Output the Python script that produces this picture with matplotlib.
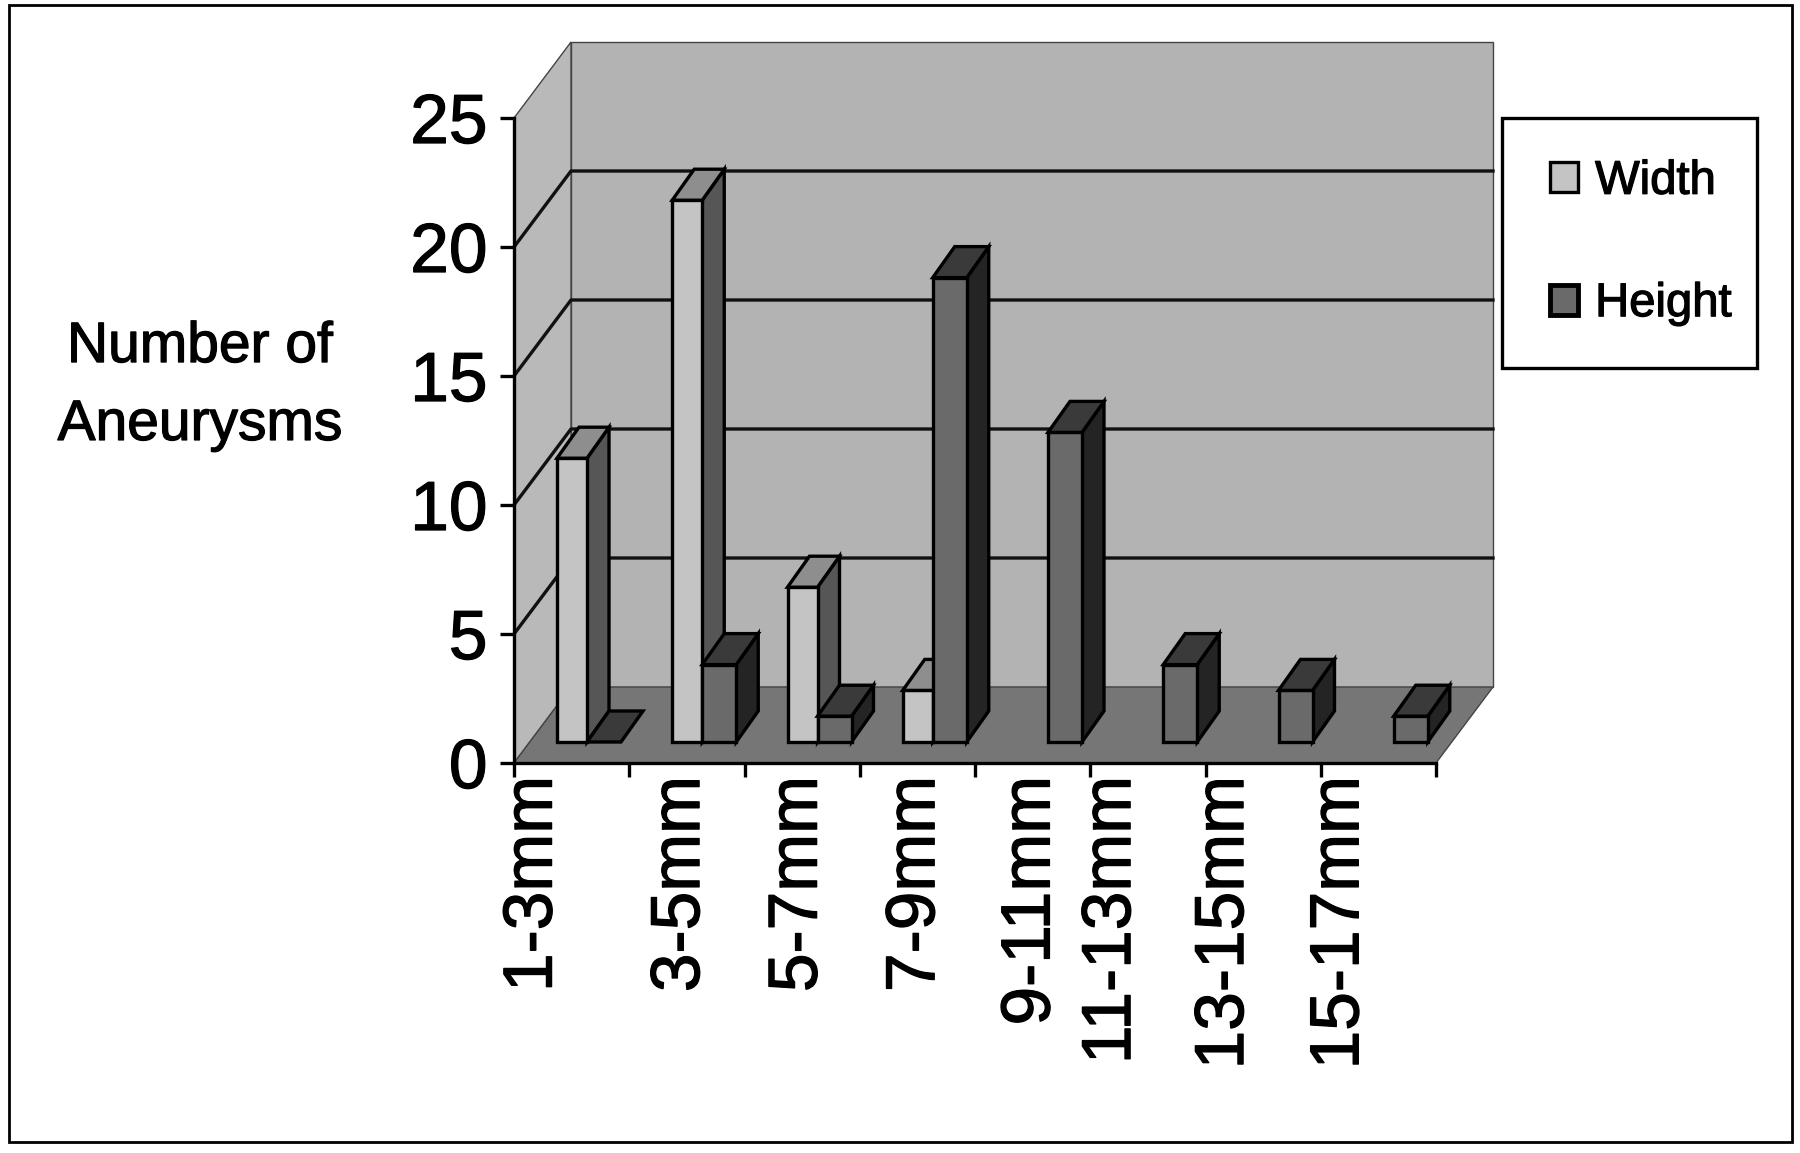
import matplotlib

matplotlib.use("Agg")
import matplotlib.pyplot as plt
import matplotlib.patheffects as pe
from matplotlib.patches import Patch, Polygon, Rectangle

plt.rcParams["font.family"] = ["Liberation Sans", "DejaVu Sans"]

categories = ["1-3mm", "3-5mm", "5-7mm", "7-9mm", "9-11mm", "11-13mm", "13-15mm", "15-17mm"]
width_counts = [11, 21, 6, 2, 0, 0, 0, 0]
height_counts = [0, 3, 1, 18, 12, 3, 2, 1]
y_ticks = [0, 5, 10, 15, 20, 25]

W, H = 1800, 1153
AX_L, AX_R, AX_B, AX_T = 514, 1436, 763, 118
CAT_PX = (AX_R - AX_L) / 8
VAL_PX = (AX_B - AX_T) / 25

# 3d look, all in data units
WALL_DX, WALL_DY = 57 / CAT_PX, 76 / VAL_PX
BAR_DX, BAR_DY = 22 / CAT_PX, 31 / VAL_PX
BAR_BASE = 21 / VAL_PX
BAR_START = 43 / CAT_PX
W_BAR, H_BAR = 30 / CAT_PX, 34 / CAT_PX
LABEL_X = [0.17, 1.45, 2.47, 3.49, 4.49, 5.19, 6.17, 7.17]

LW = 2.4
HEAVY = [pe.withStroke(linewidth=0.9, foreground="black")]


def add_poly(ax, pts, color, edge="black", lw=LW, z=2):
    ax.add_patch(Polygon(pts, closed=True, facecolor=color, edgecolor=edge, linewidth=lw,
                         joinstyle="miter", clip_on=False, zorder=z))


def draw_bar(ax, x0, w, v, front, top, side):
    y0 = BAR_BASE
    y1 = BAR_BASE + v
    if v > 0:
        add_poly(ax, [(x0 + w, y0), (x0 + w + BAR_DX, y0 + BAR_DY), (x0 + w + BAR_DX, y1 + BAR_DY), (x0 + w, y1)], side)
        add_poly(ax, [(x0, y0), (x0 + w, y0), (x0 + w, y1), (x0, y1)], front)
    add_poly(ax, [(x0, y1), (x0 + BAR_DX, y1 + BAR_DY), (x0 + w + BAR_DX, y1 + BAR_DY), (x0 + w, y1)], top)


def main() -> None:
    fig = plt.figure(figsize=(W / 100, H / 100), dpi=100)
    fig.add_artist(Rectangle((9 / W, 1 - 1142 / H), (1792 - 9) / W, (1142 - 5) / H, transform=fig.transFigure,
                             facecolor="white", edgecolor="black", linewidth=2.0, zorder=-2))
    ax = fig.add_axes([AX_L / W, 1 - AX_B / H, (AX_R - AX_L) / W, (AX_B - AX_T) / H])
    ax.patch.set_visible(False)
    ax.set_xlim(0, 8)
    ax.set_ylim(0, 25)

    # walls and floor
    add_poly(ax, [(WALL_DX, WALL_DY), (8 + WALL_DX, WALL_DY), (8 + WALL_DX, 25 + WALL_DY), (WALL_DX, 25 + WALL_DY)],
             "#b3b3b3", edge="#444444", lw=1.0, z=1)
    add_poly(ax, [(0, 0), (WALL_DX, WALL_DY), (WALL_DX, 25 + WALL_DY), (0, 25)],
             "#b9b9b9", edge="#444444", lw=1.0, z=1)
    add_poly(ax, [(0, 0), (8, 0), (8 + WALL_DX, WALL_DY), (WALL_DX, WALL_DY)],
             "#767676", edge="#444444", lw=1.0, z=1)

    for v in y_ticks[1:-1]:
        ax.plot([0, WALL_DX, 8 + WALL_DX], [v, v + WALL_DY, v + WALL_DY], color="#111111", linewidth=LW,
                clip_on=False, zorder=1.5)

    for i in range(len(categories)):
        x0 = i + BAR_START
        if width_counts[i] > 0:
            draw_bar(ax, x0, W_BAR, width_counts[i], "#c4c4c4", "#8e8e8e", "#565656")
        draw_bar(ax, x0 + W_BAR, H_BAR, height_counts[i], "#6a6a6a", "#3a3a3a", "#242424")

    for s in ["top", "right"]:
        ax.spines[s].set_visible(False)
    for s in ["left", "bottom"]:
        ax.spines[s].set_linewidth(LW)
        ax.spines[s].set_zorder(3)

    ax.set_yticks(y_ticks)
    ax.tick_params(axis="y", labelsize=50, length=10, width=LW, pad=9)
    ax.set_xticks(LABEL_X, categories, rotation=90, ha="center", va="top")
    ax.set_xticks(range(9), minor=True)
    ax.tick_params(axis="x", which="major", labelsize=50, length=0, pad=9)
    ax.tick_params(axis="x", which="minor", length=10, width=LW)
    for lab in ax.get_xticklabels() + ax.get_yticklabels():
        lab.set_path_effects(HEAVY)

    fig.text(200 / W, 1 - 386 / H, "Number of\nAneurysms", fontsize=41, ha="center", va="center",
             linespacing=1.57, path_effects=HEAVY)

    fig.add_artist(Rectangle((1502 / W, 1 - 368 / H), (1757 - 1502) / W, (368 - 118) / H, transform=fig.transFigure,
                             facecolor="white", edgecolor="black", linewidth=LW, zorder=-1))
    handles = [Patch(facecolor="#c4c4c4", edgecolor="black", linewidth=LW),
               Patch(facecolor="#6a6a6a", edgecolor="black", linewidth=3.5)]
    leg = fig.legend(handles, ["Width", "Height"], loc="upper left",
                     bbox_to_anchor=(1512 / W, 1 - 122 / H), bbox_transform=fig.transFigure,
                     fontsize=34, frameon=False, borderaxespad=0, borderpad=0.8, labelspacing=1.66,
                     handlelength=0.6, handleheight=0.6, handletextpad=0.36)
    for t in leg.get_texts():
        t.set_path_effects(HEAVY)

    fig.savefig("out.png", dpi=100)
    plt.close(fig)


if __name__ == "__main__":
    main()
